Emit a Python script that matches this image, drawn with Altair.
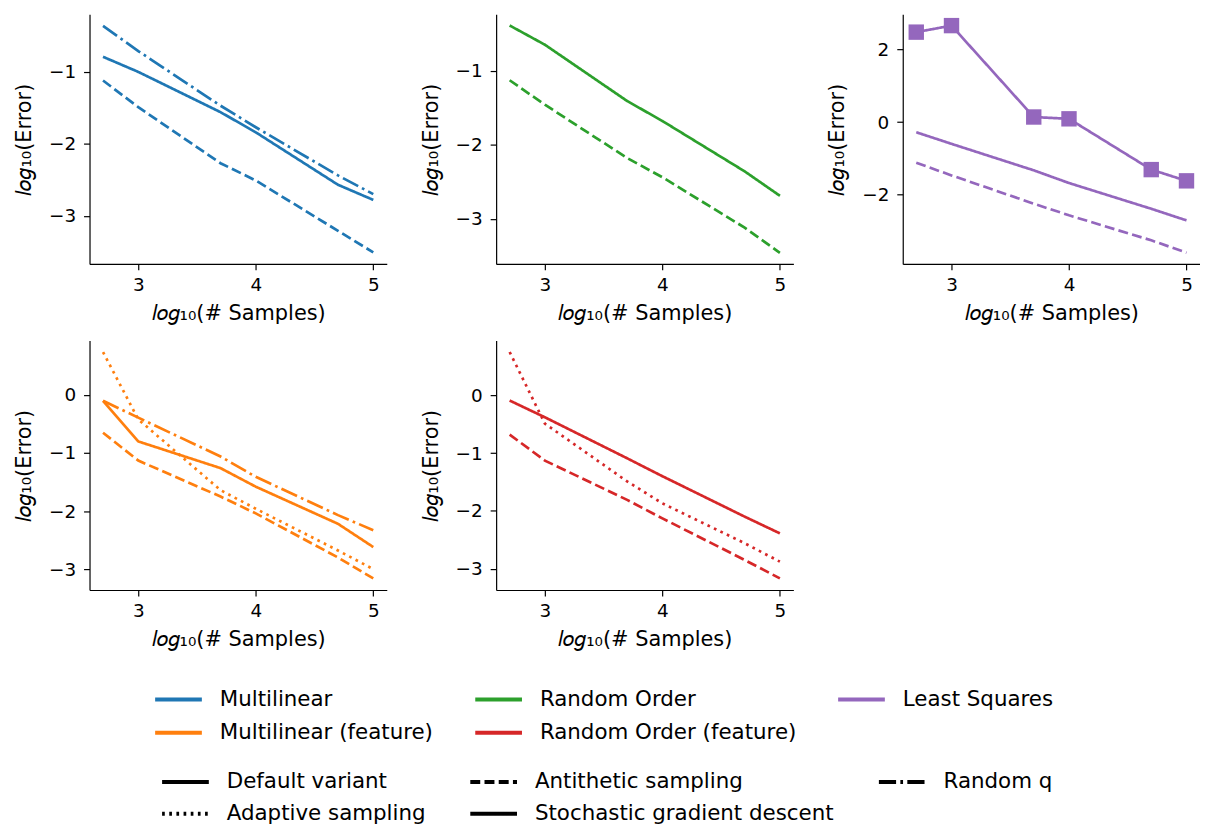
import altair as alt
import pandas as pd

x_vals = [2.7, 3.0, 3.7, 4.0, 4.7, 5.0]

methods = ["Multilinear", "Multilinear (feature)", "Random Order",
           "Random Order (feature)", "Least Squares"]
method_colors = ["#1f77b4", "#ff7f0e", "#2ca02c", "#d62728", "#9467bd"]

variants = ["Default variant", "Adaptive sampling", "Antithetic sampling",
            "Stochastic gradient descent", "Random q"]
variant_dashes = [[1, 0], [2.7, 4.5], [10, 4.3], [1, 0], [17.3, 4.3, 2.7, 4.3]]

# log10(Error) per method and variant
multilinear = {
    "Default variant": [-0.79, -1.00, -1.56, -1.84, -2.57, -2.78],
    "Antithetic sampling": [-1.12, -1.49, -2.27, -2.51, -3.21, -3.51],
    "Random q": [-0.36, -0.71, -1.47, -1.77, -2.44, -2.70],
}
random_order = {
    "Default variant": [-0.39, -0.65, -1.41, -1.68, -2.36, -2.69],
    "Antithetic sampling": [-1.13, -1.46, -2.18, -2.44, -3.12, -3.46],
}
least_squares = {
    "Default variant": [-0.28, -0.60, -1.33, -1.68, -2.39, -2.71],
    "Antithetic sampling": [-1.12, -1.47, -2.25, -2.57, -3.26, -3.60],
    "Stochastic gradient descent": [2.48, 2.66, 0.14, 0.09, -1.31, -1.62],
}
multilinear_feature = {
    "Default variant": [-0.10, -0.80, -1.26, -1.58, -2.22, -2.62],
    "Antithetic sampling": [-0.65, -1.13, -1.75, -2.04, -2.80, -3.16],
    "Adaptive sampling": [0.74, -0.42, -1.64, -1.96, -2.68, -3.00],
    "Random q": [-0.10, -0.39, -1.06, -1.41, -2.07, -2.33],
}
random_order_feature = {
    "Default variant": [-0.09, -0.38, -1.09, -1.40, -2.10, -2.39],
    "Antithetic sampling": [-0.68, -1.13, -1.81, -2.13, -2.85, -3.17],
    "Adaptive sampling": [0.75, -0.49, -1.49, -1.87, -2.56, -2.88],
}

panels = [
    ("Multilinear", multilinear, [-3.67, -0.20], [-1, -2, -3]),
    ("Random Order", random_order, [-3.61, -0.24], [-1, -2, -3]),
    ("Least Squares", least_squares, [-3.91, 2.97], [2, 0, -2]),
    ("Multilinear (feature)", multilinear_feature, [-3.36, 0.94], [0, -1, -2, -3]),
    ("Random Order (feature)", random_order_feature, [-3.37, 0.95], [0, -1, -2, -3]),
]

FONT = "DejaVu Sans"
PW, PH = 299, 251

LINE_PATH = "M-2.136,0H2.136"

color_legend = alt.Legend(
    title=None, orient="none", legendX=76.5, legendY=676, columns=3,
    symbolType=LINE_PATH, symbolSize=484, symbolStrokeWidth=4,
    labelFontSize=21.5, labelFont=FONT, labelColor="black",
    labelOffset=28.5, columnPadding=33, rowPadding=9.5, labelLimit=500,
)
variant_legend = alt.Legend(
    title=None, orient="none", legendX=83.5, legendY=759, columns=3,
    symbolType=LINE_PATH, symbolSize=484, symbolStrokeWidth=4,
    symbolStrokeColor="black", symbolOpacity=1,
    labelFontSize=21.5, labelFont=FONT, labelColor="black",
    labelOffset=28.5, columnPadding=36, rowPadding=8, labelLimit=500,
)

color_enc = alt.Color("method:N", scale=alt.Scale(domain=methods, range=method_colors),
                      legend=color_legend)
dash_enc = alt.StrokeDash("variant:N", scale=alt.Scale(domain=variants, range=variant_dashes),
                          legend=variant_legend)

charts = []
for name, series, ydom, yticks in panels:
    rows = []
    for var, vals in series.items():
        for xv, yv in zip(x_vals, vals):
            rows.append({"method": name, "variant": var, "x": xv, "y": yv})
    df = pd.DataFrame(rows)
    xenc = alt.X("x:Q", scale=alt.Scale(domain=[2.585, 5.115], nice=False, zero=False),
                 axis=alt.Axis(values=[3, 4, 5], format="d", title="𝑙𝑜𝑔₁₀(# Samples)"))
    yenc = alt.Y("y:Q", scale=alt.Scale(domain=ydom, nice=False, zero=False),
                 axis=alt.Axis(values=yticks, format="d", title="𝑙𝑜𝑔₁₀(Error)"))
    line = alt.Chart(df).mark_line(strokeWidth=2.7, clip=True).encode(
        x=xenc, y=yenc, color=color_enc, strokeDash=dash_enc, detail="variant:N",
    )
    layers = [line]
    sgd = df[df["variant"] == "Stochastic gradient descent"]
    if len(sgd):
        pts = alt.Chart(sgd).mark_point(shape="square", filled=True, size=240, opacity=1).encode(
            x=xenc, y=yenc, color=color_enc
        )
        layers.append(pts)
    charts.append(alt.layer(*layers).properties(width=PW, height=PH))

chart = alt.concat(*charts, columns=3, spacing={"row": 77, "column": 110}, bounds="flush").configure(
    font=FONT,
    padding={"left": 5, "top": 4, "right": 0, "bottom": 0},
).configure_view(stroke=None).configure_axis(
    grid=False, domainColor="black", tickColor="black", domainWidth=1.2, tickWidth=1.2,
    tickSize=6, labelFontSize=18.5, labelFont=FONT, labelColor="black",
    titleFontSize=21, titleFont=FONT, titleFontWeight="normal", titleColor="black",
).configure_axisY(titlePadding=14, labelPadding=8).configure_axisX(titlePadding=8, labelPadding=6)

chart.save("out.html", embed_options={"renderer": "svg", "actions": False})
